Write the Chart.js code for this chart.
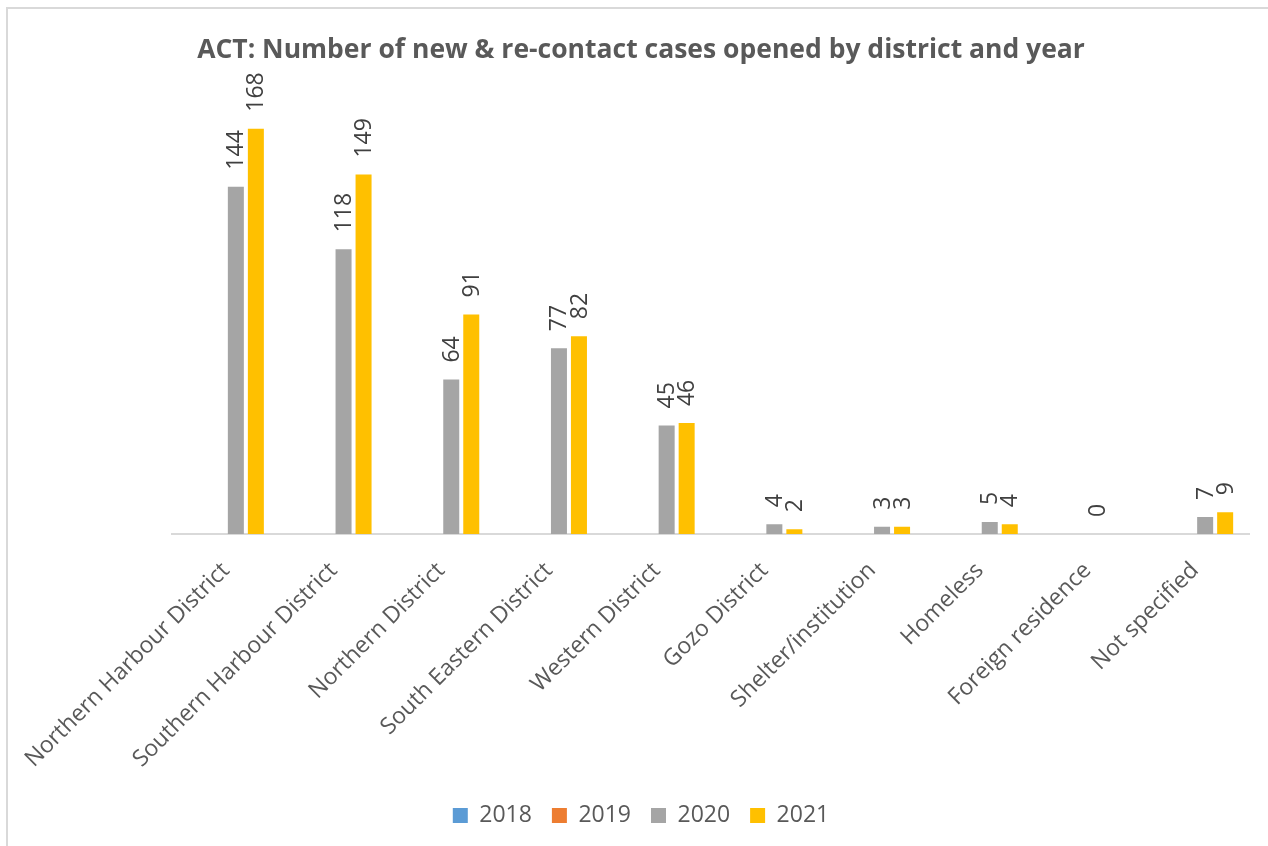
<!DOCTYPE html>
<html><head><meta charset="utf-8">
<script src="https://cdn.jsdelivr.net/npm/chart.js@4.4.0/dist/chart.umd.min.js"></script>
<style>
html,body{margin:0;padding:0;background:#fff;overflow:hidden;}
#wrap{position:relative;width:1268px;height:846px;overflow:hidden;}
#frame{position:absolute;left:6px;top:7px;width:1400px;height:1000px;border-left:2px solid #d9d9d9;border-top:2px solid #d9d9d9;}
canvas{position:absolute;left:0;top:0;}
</style></head><body>
<div id="wrap"><div id="frame"></div><canvas id="c" width="1268" height="846"></canvas></div>
<script>
const categories = ['Northern Harbour District','Southern Harbour District','Northern District','South Eastern District','Western District','Gozo District','Shelter/institution','Homeless','Foreign residence','Not specified'];
const seriesNames = ['2018','2019','2020','2021'];
const values2018 = [null,null,null,null,null,null,null,null,null,null];
const values2019 = [null,null,null,null,null,null,null,null,null,null];
const values2020 = [144,118,64,77,45,4,3,5,0,7];
const values2021 = [168,149,91,82,46,2,3,4,null,9];
const seriesColors = ['#5B9BD5','#ED7D31','#A5A5A5','#FFC000'];
const titleText = 'ACT: Number of new & re-contact cases opened by district and year';

const FONT = "'Open Sans', sans-serif";
const TEXT = '#595959';

const labelPlugin = {
  id: 'vlabels',
  afterDatasetsDraw(chart) {
    const ctx = chart.ctx;
    ctx.save();
    ctx.font = "23px " + FONT;
    ctx.fillStyle = '#404040';
    ctx.textAlign = 'left';
    ctx.textBaseline = 'middle';
    chart.data.datasets.forEach((ds, di) => {
      const meta = chart.getDatasetMeta(di);
      meta.data.forEach((el, i) => {
        const v = ds.data[i];
        if (v === null || v === undefined) return;
        ctx.save();
        ctx.translate(el.x, el.y - 17);
        ctx.rotate(-Math.PI / 2);
        ctx.fillText(String(v), 0, 1);
        ctx.restore();
      });
    });
    ctx.restore();
  }
};

const valueSets = [values2018, values2019, values2020, values2021];
new Chart(document.getElementById('c'), {
  type: 'bar',
  data: {
    labels: categories,
    datasets: seriesNames.map((n, i) => ({
      label: n,
      data: valueSets[i],
      backgroundColor: seriesColors[i],
      borderWidth: 0,
      barPercentage: 0.8,
      categoryPercentage: 0.743
    }))
  },
  options: {
    responsive: false,
    animation: false,
    devicePixelRatio: 1,
    layout: { padding: { left: 14, right: 0, top: 0, bottom: 9 } },
    plugins: {
      title: {
        display: true,
        text: titleText,
        color: TEXT,
        font: { family: FONT, size: 26.5, weight: 'bold', lineHeight: 1.2 },
        padding: { top: 35, bottom: 33 }
      },
      legend: {
        position: 'bottom',
        labels: {
          color: TEXT,
          font: { family: FONT, size: 23 },
          boxWidth: 15, boxHeight: 15,
          padding: 20
        }
      },
      tooltip: { enabled: false }
    },
    scales: {
      x: {
        grid: { display: false, drawTicks: false },
        border: { display: true, color: '#d9d9d9', width: 2 },
        ticks: {
          color: TEXT,
          font: { family: FONT, size: 23 },
          minRotation: 45, maxRotation: 45,
          autoSkip: false,
          padding: 23
        },
        afterFit(s) { s.height = 250; s.paddingLeft = 0; s.paddingRight = 0; }
      },
      y: {
        min: 0, max: 180,
        grid: { display: false },
        border: { display: false },
        ticks: { display: false },
        afterFit(s) { s.width = 158; }
      },
      y2: {
        type: 'linear',
        position: 'right',
        min: 0, max: 180,
        grid: { display: false },
        border: { display: false },
        ticks: { display: false },
        afterFit(s) { s.width = 19; }
      }
    }
  },
  plugins: [labelPlugin]
});
</script>
</body></html>
